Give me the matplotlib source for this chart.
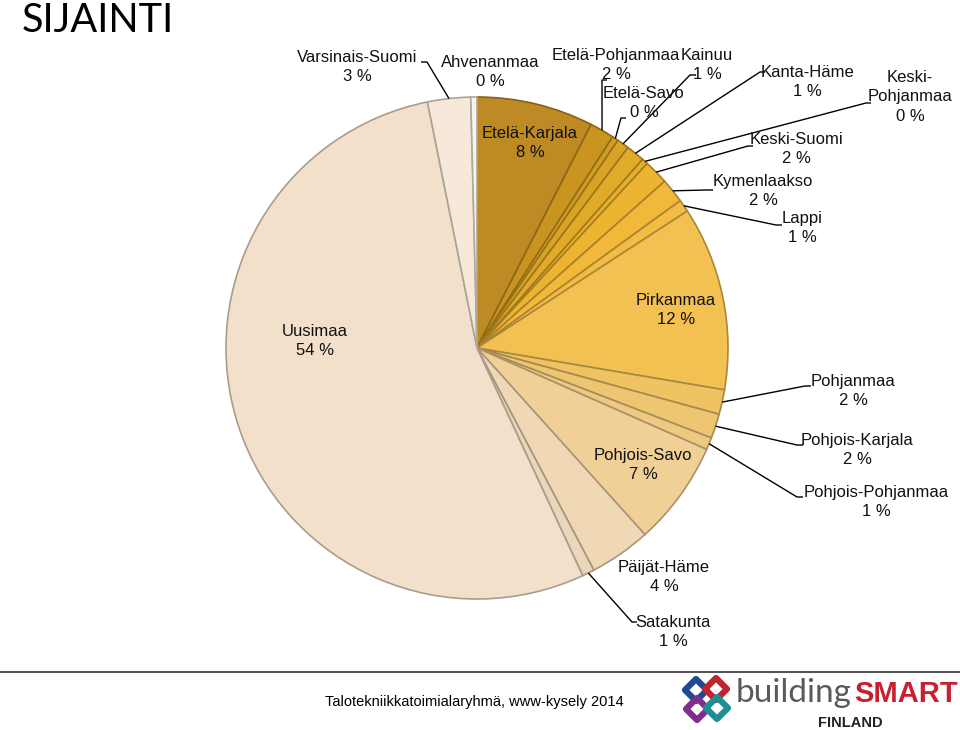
import matplotlib
matplotlib.use("Agg")
import matplotlib.pyplot as plt
import numpy as np
from matplotlib.patches import Polygon

# ---------------- data ----------------
regions = ["Etelä-Karjala", "Etelä-Pohjanmaa", "Etelä-Savo", "Kainuu", "Kanta-Häme",
           "Keski-Pohjanmaa", "Keski-Suomi", "Kymenlaakso", "Lappi", "Pirkanmaa",
           "Pohjanmaa", "Pohjois-Karjala", "Pohjois-Pohjanmaa", "Pohjois-Savo",
           "Päijät-Häme", "Satakunta", "Uusimaa", "Varsinais-Suomi", "Ahvenanmaa"]
counts = [19, 4, 1, 2, 3, 1, 4, 4, 2, 30, 4, 4, 2, 17, 10, 2, 136, 7, 1]
colors = ["#BE8A24", "#C99420", "#D19C22", "#D9A325", "#E1AA28", "#E7AF2B",
          "#EDB431", "#F1B83A", "#F3BC45", "#F3C152", "#EFC262", "#EEC571",
          "#EEC97F", "#F1D097", "#F0D8B4", "#EAD6BA", "#F2E0CA", "#F6E9D9", "#FBF2E8"]
title = "SIJAINTI"
footer = "Talotekniikkatoimialaryhmä, www-kysely 2014"

W, H = 960, 730
def Y(y):
    return H - y

fig = plt.figure(figsize=(9.6, 7.3), dpi=100)
ax = fig.add_axes([0, 0, 1, 1])

cx, cy, R = 477, 348, 251
total = sum(counts)
pcts = [int(round(100.0 * c / total)) for c in counts]

edgecols = []
for c in colors:
    rgb = np.array(matplotlib.colors.to_rgb(c)) * 0.70
    edgecols.append(tuple(rgb))

wedges, _ = ax.pie(counts, colors=colors, startangle=90, counterclock=False,
                   center=(cx, Y(cy)), radius=R,
                   wedgeprops=dict(linewidth=1.2))
for w, ec in zip(wedges, edgecols):
    w.set_edgecolor(ec)

ax.set_xlim(0, W)
ax.set_ylim(0, H)
ax.set_aspect("auto")
ax.axis("off")

FS = 12
fam = ["Liberation Sans", "DejaVu Sans"]

layout = {
    "Etelä-Karjala": dict(pos=(530, 143)),
    "Pirkanmaa": dict(pos=(676, 310)),
    "Pohjois-Savo": dict(pos=(643, 465)),
    "Päijät-Häme": dict(pos=(664, 577)),
    "Uusimaa": dict(pos=(315, 341)),
    "Ahvenanmaa": dict(pos=(490, 72)),
    "Varsinais-Suomi": dict(pos=(357, 67), anchor=(427, 62), tick=-6),
    "Etelä-Pohjanmaa": dict(pos=(616, 65), anchor=(602, 80), tick=5),
    "Etelä-Savo": dict(pos=(644, 103), anchor=(621, 118), tick=5),
    "Kainuu": dict(pos=(707, 65), anchor=(690, 75), tick=6),
    "Kanta-Häme": dict(pos=(807, 82), anchor=(760, 72), tick=5),
    "Keski-Pohjanmaa": dict(pos=(910, 97), text="Keski-\nPohjanmaa", anchor=(866, 103), tick=5),
    "Keski-Suomi": dict(pos=(796, 149), anchor=(748, 146), tick=5),
    "Kymenlaakso": dict(pos=(763, 191), anchor=(707, 190), tick=6),
    "Lappi": dict(pos=(802, 228), anchor=(776, 225), tick=6),
    "Pohjanmaa": dict(pos=(853, 391), anchor=(805, 386), tick=6),
    "Pohjois-Karjala": dict(pos=(857, 450), anchor=(797, 445), tick=6),
    "Pohjois-Pohjanmaa": dict(pos=(876, 502), anchor=(797, 497), tick=6),
    "Satakunta": dict(pos=(673, 632), anchor=(632, 622), tick=5),
}

for name, w, p in zip(regions, wedges, pcts):
    L = layout[name]
    txt = L.get("text", name) + "\n" + f"{p} %"
    x, y = L["pos"]
    ax.text(x, Y(y), txt, ha="center", va="center", fontsize=FS, family=fam,
            color="#111111", linespacing=1.38)
    if "anchor" in L:
        th = np.deg2rad((w.theta1 + w.theta2) / 2.0)
        ex = cx + R * np.cos(th)
        ey = Y(cy) + R * np.sin(th)
        axx, ayy = L["anchor"]
        ax.plot([ex, axx, axx + L["tick"]], [ey, Y(ayy), Y(ayy)], color="black",
                linewidth=1.0, solid_capstyle="butt")

# title
ax.text(22, Y(32), title, ha="left", va="baseline", fontsize=28.5,
        family=["Lato", "DejaVu Sans"], color="black")

# footer rule
ax.plot([0, W], [Y(672), Y(672)], color="#555555", linewidth=1.5)
ax.text(474, Y(702), footer, ha="center", va="center", fontsize=10.5, family=fam, color="black")

# logo: interlinked diamonds
def diamond(xc, yc, s, col):
    pts = [(xc, Y(yc - s)), (xc + s, Y(yc)), (xc, Y(yc + s)), (xc - s, Y(yc))]
    ax.add_patch(Polygon(pts, closed=True, fill=False, edgecolor=col, linewidth=4.5,
                         joinstyle="round"))

diamond(696, 690, 11, "#21498F")
diamond(716, 689, 11, "#C0242F")
diamond(697, 709, 11, "#7D2F8C")
diamond(717, 708, 11, "#1E8E95")

ax.text(736, Y(702), "building", ha="left", va="baseline", fontsize=24,
        family=["Lato", "DejaVu Sans"], fontweight="normal", color="#5A5A5A")
ax.text(958, Y(702), "SMART", ha="right", va="baseline", fontsize=21,
        family=fam, fontweight="bold", color="#C8202F")
ax.text(850, Y(723), "FINLAND", ha="center", va="center", fontsize=10.5,
        family=fam, fontweight="bold", color="#222222")

fig.savefig("out.png", dpi=100)
